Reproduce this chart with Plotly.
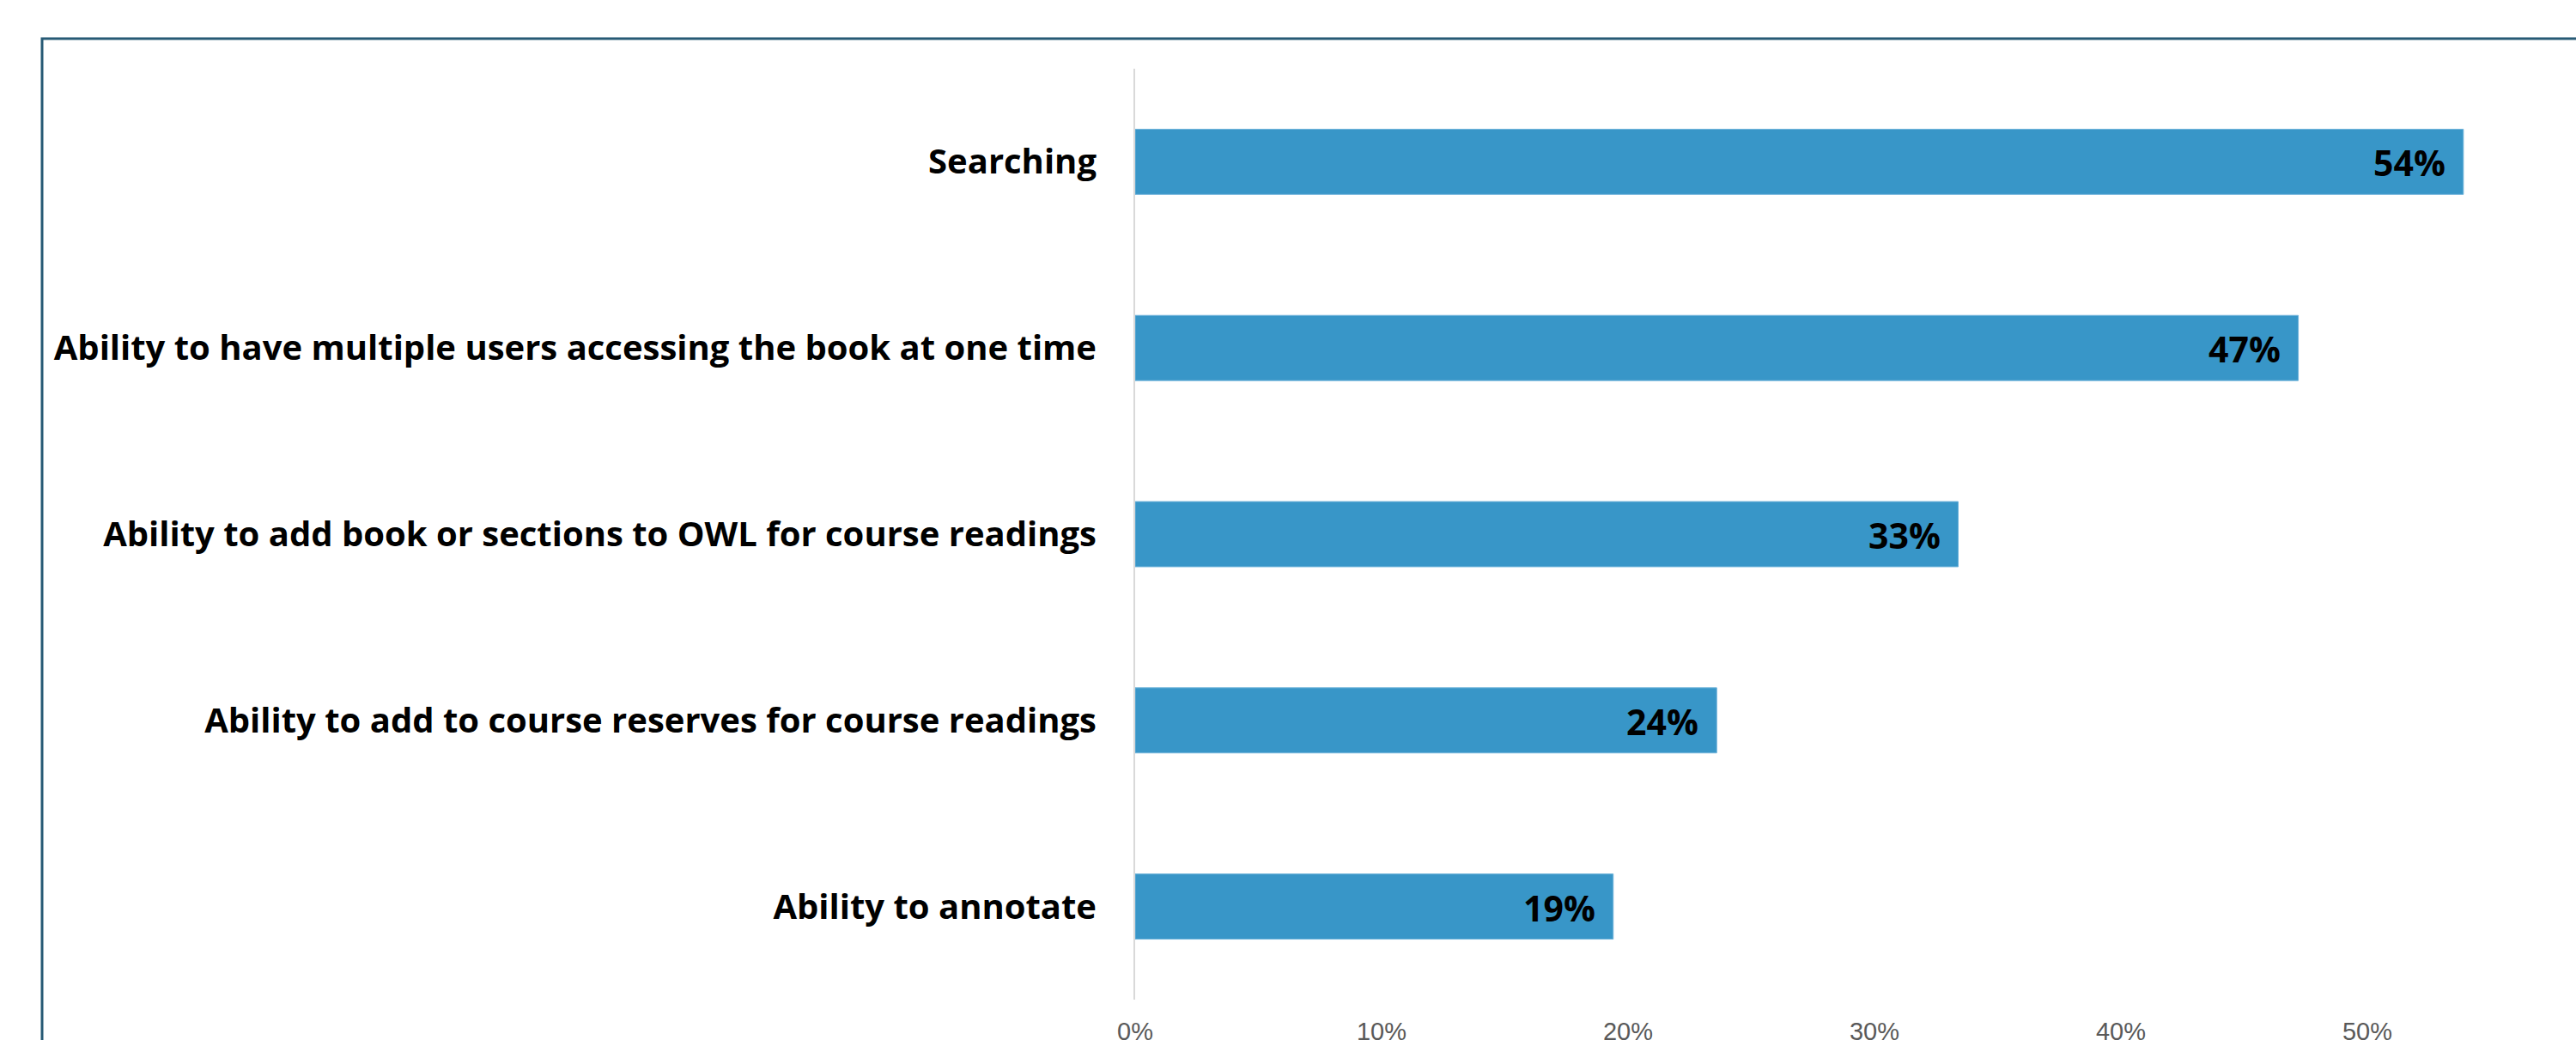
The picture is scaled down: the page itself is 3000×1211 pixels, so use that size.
import plotly.graph_objects as go

categories = [
    "Searching",
    "Ability to have multiple users accessing the book at one time",
    "Ability to add book or sections to OWL for course readings",
    "Ability to add to course reserves for course readings",
    "Ability to annotate",
]
values = [0.539, 0.472, 0.334, 0.236, 0.194]
value_labels = ["54%", "47%", "33%", "24%", "19%"]
tick_vals = [0, 0.1, 0.2, 0.3, 0.4, 0.5]
tick_text = ["0%", "10%", "20%", "30%", "40%", "50%"]

W, H = 3000, 1211
ML, MR, MT, MB = 1322, 0, 80, 47
PW = W - ML - MR
PH = H - MT - MB

fig = go.Figure()
fig.add_trace(go.Bar(
    x=values,
    y=categories,
    orientation="h",
    width=0.35,
    marker=dict(color="#3896C8", line=dict(color="#6FB3DA", width=1)),
    hoverinfo="skip",
))

for v, c, t in zip(values, categories, value_labels):
    fig.add_annotation(
        x=v, y=c, xref="x", yref="y", text=t, showarrow=False,
        xanchor="right", yanchor="middle", xshift=-19, yshift=-1,
        font=dict(family="Open Sans", size=41, color="#000000", weight="bold"),
    )

# outer chart border (partially cropped off the right/bottom edges)
fig.add_shape(
    type="rect", xref="paper", yref="paper",
    x0=(49 - ML) / PW, x1=1.2,
    y0=-0.3, y1=(H - MB - 45) / PH,
    line=dict(color="#275A75", width=3), fillcolor="rgba(0,0,0,0)",
    layer="below",
)

fig.update_layout(
    width=W, height=H,
    margin=dict(l=ML, r=MR, t=MT, b=MB, pad=0, autoexpand=False),
    paper_bgcolor="white", plot_bgcolor="white",
    showlegend=False,
    xaxis=dict(
        range=[0, 0.5847],
        tickvals=tick_vals, ticktext=tick_text,
        showgrid=False, zeroline=False, showline=False,
        ticks="", ticklabelstandoff=17, automargin=False,
        tickfont=dict(family="Liberation Sans", size=29, color="#595959"),
        fixedrange=True,
    ),
    yaxis=dict(
        autorange="reversed",
        showgrid=False, zeroline=False,
        showline=True, linecolor="#D9D9D9", linewidth=2,
        ticks="", ticklabelstandoff=35, automargin=False,
        tickfont=dict(family="Open Sans", size=40, color="#000000", weight="bold"),
        fixedrange=True,
    ),
)

fig.write_html("out.html")
